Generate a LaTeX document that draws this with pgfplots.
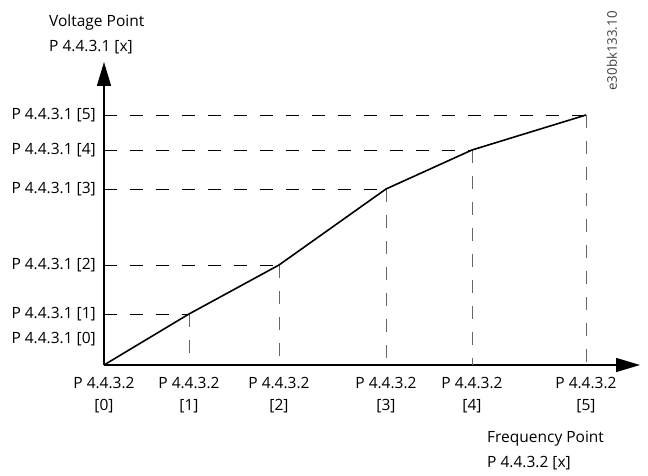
\documentclass[border=0pt]{standalone}
\usepackage{pgfplots}
\pgfplotsset{compat=1.18}
\usetikzlibrary{arrows.meta}
\usepackage{fontspec}
\setmainfont{Open Sans}
\begin{document}
\begin{tikzpicture}[x=1pt,y=1pt]
\path[use as bounding box] (0,0) rectangle (648,476);
\begin{axis}[
  at={(104pt,111pt)}, anchor=south west,
  scale only axis, width=536pt, height=303pt,
  xmin=0, xmax=536, ymin=0, ymax=303,
  axis lines=left,
  axis line style={line width=1.5pt, -{Triangle[length=24pt,width=14pt]}},
  xtick={0,85,175,282,368,482},
  xticklabels={{P 4.4.3.2\\{[0]}},{P 4.4.3.2\\{[1]}},{P 4.4.3.2\\{[2]}},{P 4.4.3.2\\{[3]}},{P 4.4.3.2\\{[4]}},{P 4.4.3.2\\{[5]}}},
  xticklabel style={align=center, font=\fontsize{15.5}{22.5}\selectfont, inner ysep=0pt, yshift=-12pt},
  ytick={26,51,100,176,215,250},
  yticklabels={{P 4.4.3.1 [0]},{P 4.4.3.1 [1]},{P 4.4.3.1 [2]},{P 4.4.3.1 [3]},{P 4.4.3.1 [4]},{P 4.4.3.1 [5]}},
  yticklabel style={font=\fontsize{15.5}{18}\selectfont, inner xsep=0pt, xshift=-8pt},
  major tick length=0pt,
  clip=false,
]
\addplot[black, line width=0.9pt, dash pattern=on 13pt off 13pt] coordinates {(0,51)(85,51)};
\addplot[black, line width=0.9pt, dash pattern=on 13pt off 13pt] coordinates {(0,100)(175,100)};
\addplot[black, line width=0.9pt, dash pattern=on 13pt off 13pt] coordinates {(0,176)(282,176)};
\addplot[black, line width=0.9pt, dash pattern=on 13pt off 13pt] coordinates {(0,215)(368,215)};
\addplot[black, line width=0.9pt, dash pattern=on 13pt off 13pt] coordinates {(0,250)(482,250)};
\addplot[black!60, line width=0.9pt, dash pattern=on 13pt off 13pt] coordinates {(85,51)(85,0)};
\addplot[black!60, line width=0.9pt, dash pattern=on 13pt off 13pt] coordinates {(175,100)(175,0)};
\addplot[black!60, line width=0.9pt, dash pattern=on 13pt off 13pt] coordinates {(282,176)(282,0)};
\addplot[black!60, line width=0.9pt, dash pattern=on 13pt off 13pt] coordinates {(368,215)(368,0)};
\addplot[black!60, line width=0.9pt, dash pattern=on 13pt off 13pt] coordinates {(482,250)(482,0)};
\addplot[black, line width=1.6pt] coordinates {(0,0)(85,51)(175,100)(282,176)(368,215)(482,250)};
\end{axis}
\node[anchor=base west, inner sep=0pt, font=\fontsize{15.5}{18}\selectfont] at (49,449) {Voltage Point};
\node[anchor=base west, inner sep=0pt, font=\fontsize{15.5}{18}\selectfont] at (49,424) {P 4.4.3.1 [x]};
\node[anchor=base west, inner sep=0pt, font=\fontsize{15.5}{18}\selectfont] at (487,33) {Frequency Point};
\node[anchor=base west, inner sep=0pt, font=\fontsize{15.5}{18}\selectfont] at (487,8) {P 4.4.3.2 [x]};
\node[rotate=90, inner sep=0pt, text=black!75, font=\fontsize{13.3}{15}\selectfont] at (612,425) {e30bk133.10};
\end{tikzpicture}
\end{document}
